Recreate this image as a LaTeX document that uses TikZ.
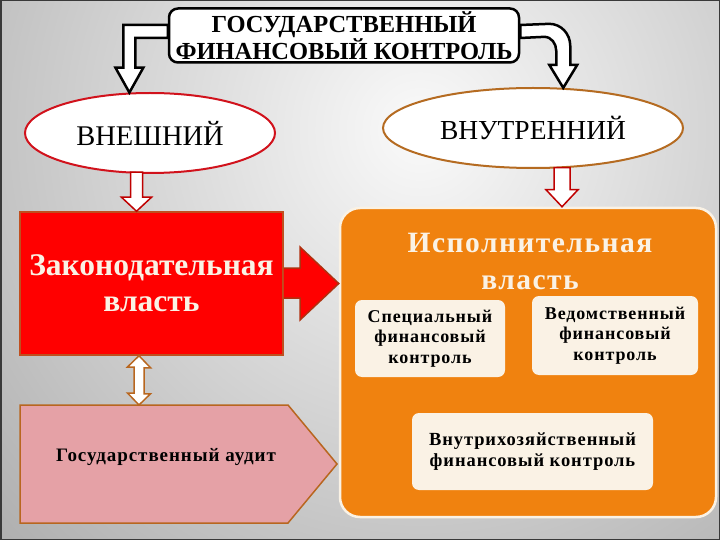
\documentclass[tikz,border=0pt]{standalone}
\usepackage{fontspec}
\setmainfont{Liberation Serif}
\newfontfamily\trackfont{Liberation Serif}[LetterSpace=5]
\usetikzlibrary{calc,positioning,shapes.geometric}

\definecolor{legred}{rgb}{1,0,0}
\definecolor{legline}{rgb}{0.75,0.31,0.12}
\definecolor{execorange}{rgb}{0.94,0.51,0.06}
\definecolor{cream}{rgb}{0.98,0.95,0.90}
\definecolor{auditpink}{rgb}{0.90,0.63,0.65}
\definecolor{auditline}{rgb}{0.72,0.40,0.12}
\definecolor{extline}{rgb}{0.82,0.07,0.11}
\definecolor{intline}{rgb}{0.71,0.42,0.13}
\definecolor{arrowred}{rgb}{0.75,0,0}
\definecolor{bigline}{rgb}{0.69,0.19,0.06}

\tikzset{
	headbox/.style = {rectangle, draw=black, line width=2.5pt, fill=white, rounded corners=9pt,
		minimum width=350pt, minimum height=54pt, align=center, inner sep=0pt,
		font=\bfseries\fontsize{24.5}{25}\selectfont},
	kindoval/.style = {ellipse, fill=white, line width=2pt, inner sep=0pt,
		minimum height=80pt},
	redblock/.style = {rectangle, fill=legred, draw=legline, line width=1.5pt, align=center,
		minimum width=263pt, minimum height=143pt, text=cream,
		font=\bfseries\fontsize{31.5}{36}\selectfont},
	auditsig/.style = {fill=auditpink, draw=auditline, line width=1.5pt},
	audittext/.style = {font=\trackfont\bfseries\fontsize{19}{20}\selectfont},
	execbox/.style = {rectangle, rounded corners=20pt, fill=execorange, draw=cream,
		line width=2.5pt, minimum width=376pt, minimum height=309pt},
	innerbox/.style = {rectangle, rounded corners=7pt, fill=cream, align=center, inner sep=0pt,
		font=\trackfont\bfseries\fontsize{18}{20.5}\selectfont},
	hollowblack/.style = {draw=black, fill=white, line width=2.5pt},
	hollowred/.style = {draw=arrowred, fill=white, line width=1.5pt},
	hollowbrown/.style = {draw=auditline, fill=white, line width=1.5pt},
	bigarrow/.style = {fill=legred, draw=bigline, line width=1.5pt}
}

\begin{document}
\begin{tikzpicture}[x=1pt, y=-1pt]
	\useasboundingbox (0,0) rectangle (720,540);
	
	% background
	\begin{scope}
		\clip (0,0) rectangle (720,540);
		\shade[inner color=gray!4, outer color=gray!64] (420,130) circle (600);
	\end{scope}
	\draw[gray!45!black, line width=3pt] (0,0) rectangle (720,540);
	
	\node [headbox] (title) at (344,35.5) {ГОСУДАРСТВЕННЫЙ\\ФИНАНСОВЫЙ КОНТРОЛЬ};
	
	\node [kindoval, draw=extline, minimum width=250pt, font=\fontsize{28.5}{29}\selectfont] (ext) at (150,133) {ВНЕШНИЙ};
	\node [kindoval, draw=intline, minimum width=300pt, font=\fontsize{27.5}{28}\selectfont] (int) at (533,128) {ВНУТРЕННИЙ};
	
	\node [redblock] (leg) at (151.5,283.5) {Законодательная\\власть};
	
	% audit pentagon
	\draw [auditsig] (20,405) -- ++(268,0) -- ++(49,59) -- ++(-49,59) -- ++(-268,0) -- cycle;
	\node [audittext] (audit) at (166,457) {Государственный аудит};
	
	\node [execbox] (exec) at (528,362.5) {};
	\node [align=center, text=cream, font=\trackfont\bfseries\fontsize{29.5}{37}\selectfont] (exectitle) at (530,261) {Исполнительная\\власть};
	\node [innerbox, minimum width=150pt, minimum height=77pt] (spec) at (430,338.5) {Специальный\\финансовый\\контроль};
	\node [innerbox, minimum width=166pt, minimum height=79pt] (dept) at (615,335.5) {Ведомственный\\финансовый\\контроль};
	\node [innerbox, minimum width=241pt, minimum height=77pt, font=\trackfont\bfseries\fontsize{18.5}{21}\selectfont] (inhouse) at (532.5,451.5) {Внутрихозяйственный\\финансовый контроль};
	
	% bent arrows from the title
	\draw [hollowblack] (ext.117) -- ++(-14,-25) coordinate (lh) -- ++(8,0) |- (title.west |- 0,25)
		-- (title.west |- 0,38) -| ($(lh)+(20,0)$) -- ++(8,0) -- cycle;
	\draw [hollowblack] (int.53) -- ++(-14,-23) coordinate (rh) -- ++(7,0) -- ++(0,-14)
		to [out=90, in=0] ($(rh)+(-5,-28)$) -- (title.east |- 0,38) -- (title.east |- 0,25)
		-- ($(rh)+(0,-41)$) to [out=0, in=90] ($(rh)+(21,-19)$) -- ($(rh)+(21,0)$) -- ++(7,0) -- cycle;
	
	% down arrows
	\draw [hollowred] ([xshift=-15pt]leg.north) -- ++(-15,-14) -- ++(9,0) -- ++(0,-25)
		-- ++(12,0) -- ++(0,25) -- ++(9,0) -- cycle;
	\draw [hollowred] ([xshift=34pt]exec.north) -- ++(-16,-17) -- ++(8,0) -- ++(0,-22)
		-- ++(16,0) -- ++(0,22) -- ++(8,0) -- cycle;
	
	% legislative to executive
	\filldraw [bigarrow] (leg.east |- 0,268) -- (300,268) -- (300,247) -- (exec.west |- leg.east)
		-- (300,320) -- (300,298) -- (leg.east |- 0,298);
	
	% legislative and audit
	\coordinate (ltip) at ([xshift=-12.5pt]leg.south);
	\draw [hollowbrown] (ltip) -- ++(11.5,12) -- ++(-6.5,0) -- ++(0,26) -- ++(6.5,0)
		-- (ltip |- 0,405) -- ++(-11.5,-12) -- ++(6.5,0) -- ++(0,-26) -- ++(-6.5,0) -- cycle;
	
\end{tikzpicture}
\end{document}
